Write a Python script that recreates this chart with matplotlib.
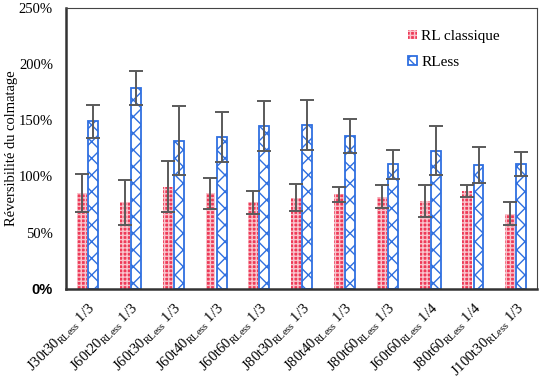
import numpy as np
import matplotlib
matplotlib.use('Agg')
import matplotlib.pyplot as plt
from matplotlib.ticker import FuncFormatter

plt.rcParams['font.family'] = 'Liberation Serif'
plt.rcParams['mathtext.fontset'] = 'custom'
plt.rcParams['mathtext.rm'] = 'Liberation Serif'
plt.rcParams['hatch.linewidth'] = 1.0

# ── data ──────────────────────────────────────────────────────────────────────
groups = ['J30t30', 'J60t20', 'J60t30', 'J60t40', 'J60t60', 'J80t30',
          'J80t40', 'J80t60', 'J60t60', 'J80t60', 'J100t30']
ratios = ['1/3', '1/3', '1/3', '1/3', '1/3', '1/3', '1/3', '1/3', '1/4', '1/4', '1/3']

rl_mean  = [85, 77, 91, 85, 77, 81, 84, 82, 78, 87, 67]
rl_err   = [17, 20, 23, 14, 10, 12, 7, 10, 14, 5, 10]
rless_mean = [149, 179, 132, 135, 145, 146, 136, 111, 123, 110, 111]
rless_err  = [15, 15, 31, 22, 22, 22, 15, 13, 22, 16, 11]

labels = [rf'{g}$_{{\mathregular{{RLess}}}}$ {r}' for g, r in zip(groups, ratios)]

# ── plot ──────────────────────────────────────────────────────────────────────
fig = plt.figure(figsize=(5.51, 3.80), dpi=100)
ax = fig.add_axes([0.12, 0.24, 0.855, 0.739])

x = np.arange(len(groups))
w = 0.23
err_kw = dict(ecolor='#5a5a5a', elinewidth=1.4, capsize=5, capthick=1.4)

ax.bar(x - 0.13, rl_mean, w, yerr=rl_err, color='#ee3a58', edgecolor='#f9c4cc',
       hatch='++++', linewidth=0, error_kw=err_kw, label='RL classique')
ax.bar(x + 0.13, rless_mean, w, yerr=rless_err, color='white', edgecolor='#2f6fe0',
       hatch='xx', linewidth=1.3, error_kw=err_kw, label='RLess')

ax.set_xlim(-0.5, len(groups) - 0.5)
ax.set_ylim(0, 250)
ax.set_yticks(np.arange(0, 251, 50))
ax.yaxis.set_major_formatter(FuncFormatter(lambda v, p: f'{v:.0f}%'))
for t in ax.get_yticklabels():
    t.set_fontsize(10.5)
zero = ax.get_yticklabels()[0]
zero.set_fontfamily('Liberation Sans')
zero.set_fontweight('bold')
ax.tick_params(axis='y', length=0, pad=9.5)
ax.tick_params(axis='x', length=0, pad=8)
ax.set_xticks(x)
ax.set_xticklabels(labels, rotation=45, ha='right', rotation_mode='anchor', fontsize=10.5)

ax.set_ylabel('Réversibilité du colmatage', fontsize=10.5)
ax.yaxis.set_label_coords(-0.102, 0.5)

for s in ['left', 'bottom']:
    ax.spines[s].set_linewidth(1.8)
    ax.spines[s].set_color('#333333')
for s in ['top', 'right']:
    ax.spines[s].set_linewidth(0.8)
    ax.spines[s].set_color('#444444')

ax.legend(loc='upper left', bbox_to_anchor=(0.712, 0.945), frameon=False,
          fontsize=11, handlelength=0.6, handleheight=0.6, handletextpad=0.3,
          labelspacing=0.85, borderaxespad=0)

fig.savefig('out.png', dpi=100)
